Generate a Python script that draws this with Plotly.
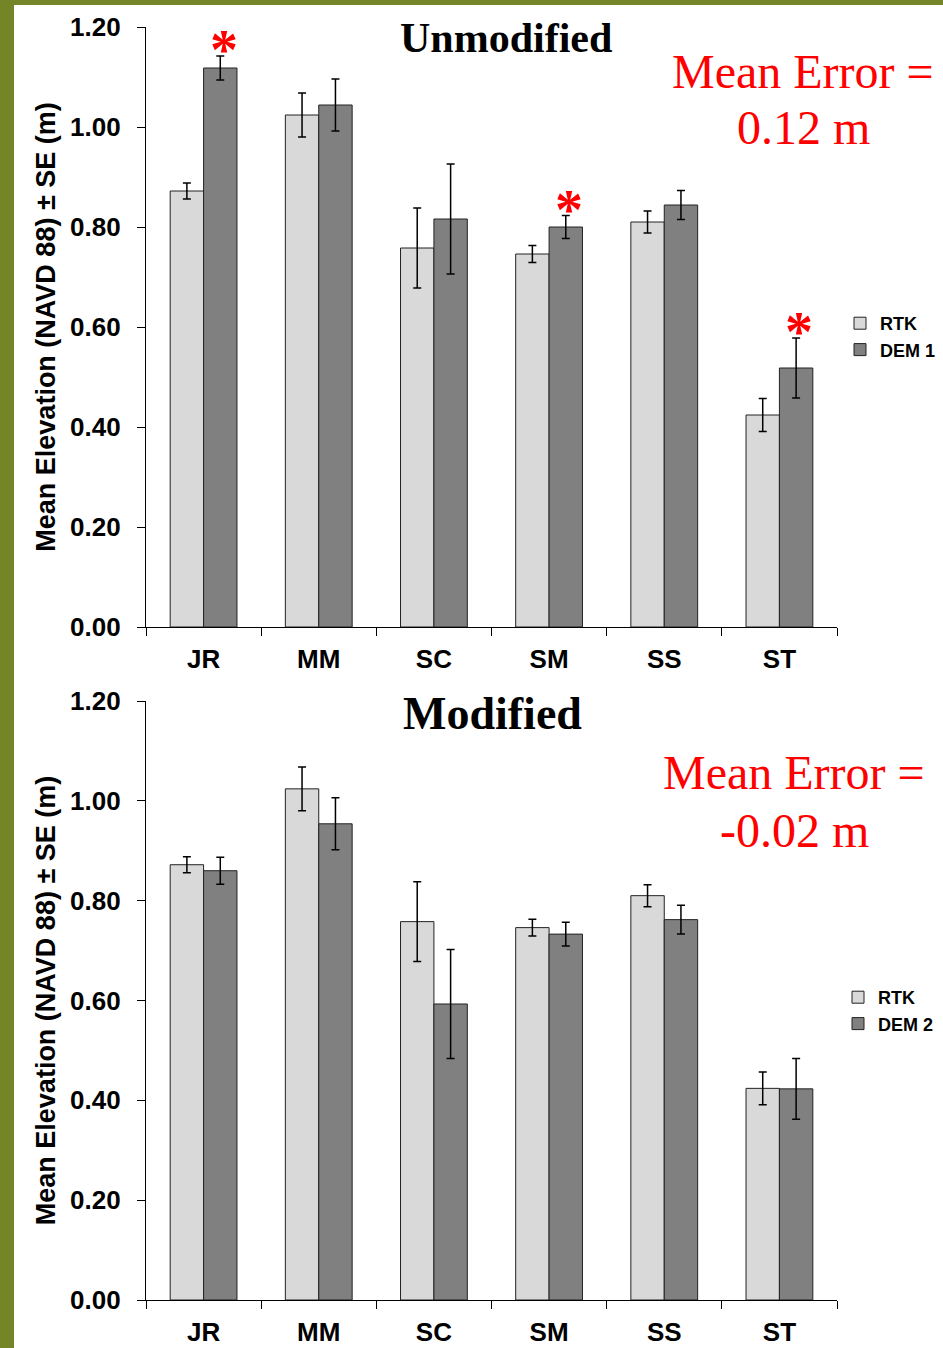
import plotly.graph_objects as go

W, H = 943, 1348

categories = ["JR", "MM", "SC", "SM", "SS", "ST"]
rtk = [0.872, 1.024, 0.758, 0.746, 0.810, 0.424]
rtk_se = [0.016, 0.044, 0.080, 0.017, 0.022, 0.033]
dem1 = [1.118, 1.044, 0.816, 0.800, 0.844, 0.518]
dem1_se = [0.024, 0.052, 0.110, 0.023, 0.029, 0.060]
dem2 = [0.860, 0.954, 0.593, 0.733, 0.762, 0.423]
dem2_se = [0.027, 0.052, 0.109, 0.024, 0.029, 0.061]
significant_dem1 = ["JR", "SM", "ST"]
y_ticks = [0.0, 0.2, 0.4, 0.6, 0.8, 1.0, 1.2]

LIGHT = "#d9d9d9"
DARK = "#808080"
SANS = "Liberation Sans, Arial, sans-serif"
SERIF = "Liberation Serif, Times New Roman, serif"


def px_x(p):
    return p / W


def px_y(p):
    return 1 - p / H


fig = go.Figure()

err = dict(type="data", thickness=1.5, width=4, color="black")
line = dict(color="#222222", width=1)

fig.add_trace(go.Bar(x=categories, y=rtk, name="RTK", marker=dict(color=LIGHT, line=line),
                     error_y=dict(array=rtk_se, **err), xaxis="x", yaxis="y", legend="legend"))
fig.add_trace(go.Bar(x=categories, y=dem1, name="DEM 1", marker=dict(color=DARK, line=line),
                     error_y=dict(array=dem1_se, **err), xaxis="x", yaxis="y", legend="legend"))
fig.add_trace(go.Bar(x=categories, y=rtk, name="RTK", marker=dict(color=LIGHT, line=line),
                     error_y=dict(array=rtk_se, **err), xaxis="x2", yaxis="y2", legend="legend2"))
fig.add_trace(go.Bar(x=categories, y=dem2, name="DEM 2", marker=dict(color=DARK, line=line),
                     error_y=dict(array=dem2_se, **err), xaxis="x2", yaxis="y2", legend="legend2"))

tickfont = dict(family=SANS, size=26, color="black", weight="bold")
xcommon = dict(type="category", showline=True, linecolor="black", linewidth=1.2,
               ticks="outside", tickson="boundaries", ticklen=8, tickcolor="black",
               tickfont=tickfont, showgrid=False, zeroline=False, ticklabelstandoff=9,
               automargin=False, domain=[px_x(146), px_x(837)])
ycommon = dict(range=[0, 1.2], tickvals=y_ticks, tickformat=".2f", showline=True,
               linecolor="black", linewidth=1.2, ticks="outside", ticklen=8,
               tickcolor="black", tickfont=tickfont, showgrid=False, zeroline=False,
               ticklabelstandoff=11, automargin=False,
               title=dict(text="Mean Elevation (NAVD 88) ± SE (m)",
                          font=dict(family=SANS, size=27, color="black", weight="bold"),
                          standoff=6))

fig.update_layout(
    width=W, height=H, autosize=False,
    margin=dict(l=0, r=0, t=0, b=0, pad=0),
    paper_bgcolor="#738526", plot_bgcolor="white",
    barmode="group", bargap=0.42, bargroupgap=0,
    xaxis=dict(anchor="y", **xcommon),
    yaxis=dict(anchor="x", domain=[px_y(627), px_y(27)], **ycommon),
    xaxis2=dict(anchor="y2", **xcommon),
    yaxis2=dict(anchor="x2", domain=[px_y(1300), px_y(701)], **ycommon),
    legend=dict(x=px_x(840), y=px_y(305), xanchor="left", yanchor="top",
                bgcolor="rgba(0,0,0,0)", tracegroupgap=0,
                font=dict(family=SANS, size=18, color="black", weight="bold")),
    legend2=dict(x=px_x(838), y=px_y(979), xanchor="left", yanchor="top",
                 bgcolor="rgba(0,0,0,0)", tracegroupgap=0,
                 font=dict(family=SANS, size=18, color="black", weight="bold")),
    shapes=[dict(type="rect", xref="paper", yref="paper", x0=px_x(14), x1=1,
                 y0=0, y1=px_y(5), fillcolor="white", line=dict(width=0), layer="below")],
)

annotations = [
    dict(text="Unmodified", x=px_x(506), y=px_y(38), font=dict(family=SERIF, size=42, color="black", weight="bold")),
    dict(text="Modified", x=px_x(492), y=px_y(713), font=dict(family=SERIF, size=46, color="black", weight="bold")),
    dict(text="Mean Error =", x=px_x(803), y=px_y(72), font=dict(family=SERIF, size=48, color="red")),
    dict(text="0.12 m", x=px_x(803), y=px_y(128), font=dict(family=SERIF, size=48, color="red")),
    dict(text="Mean Error =", x=px_x(794), y=px_y(773), font=dict(family=SERIF, size=48, color="red")),
    dict(text="-0.02 m", x=px_x(794), y=px_y(830), font=dict(family=SERIF, size=48, color="red")),
]
for a in annotations:
    a.update(xref="paper", yref="paper", xanchor="center", yanchor="middle", showarrow=False)
    fig.add_annotation(**a)

for cat in significant_dem1:
    i = categories.index(cat)
    fig.add_annotation(x=cat, y=dem1[i] + dem1_se[i], xref="x", yref="y", text="*",
                       showarrow=False, xanchor="center", yanchor="bottom", xshift=20, yshift=-27,
                       font=dict(family=SERIF, size=56, color="red", weight="bold"))

fig.write_html("out.html", config={"displayModeBar": False},
               post_script="document.body.style.margin='0';")
